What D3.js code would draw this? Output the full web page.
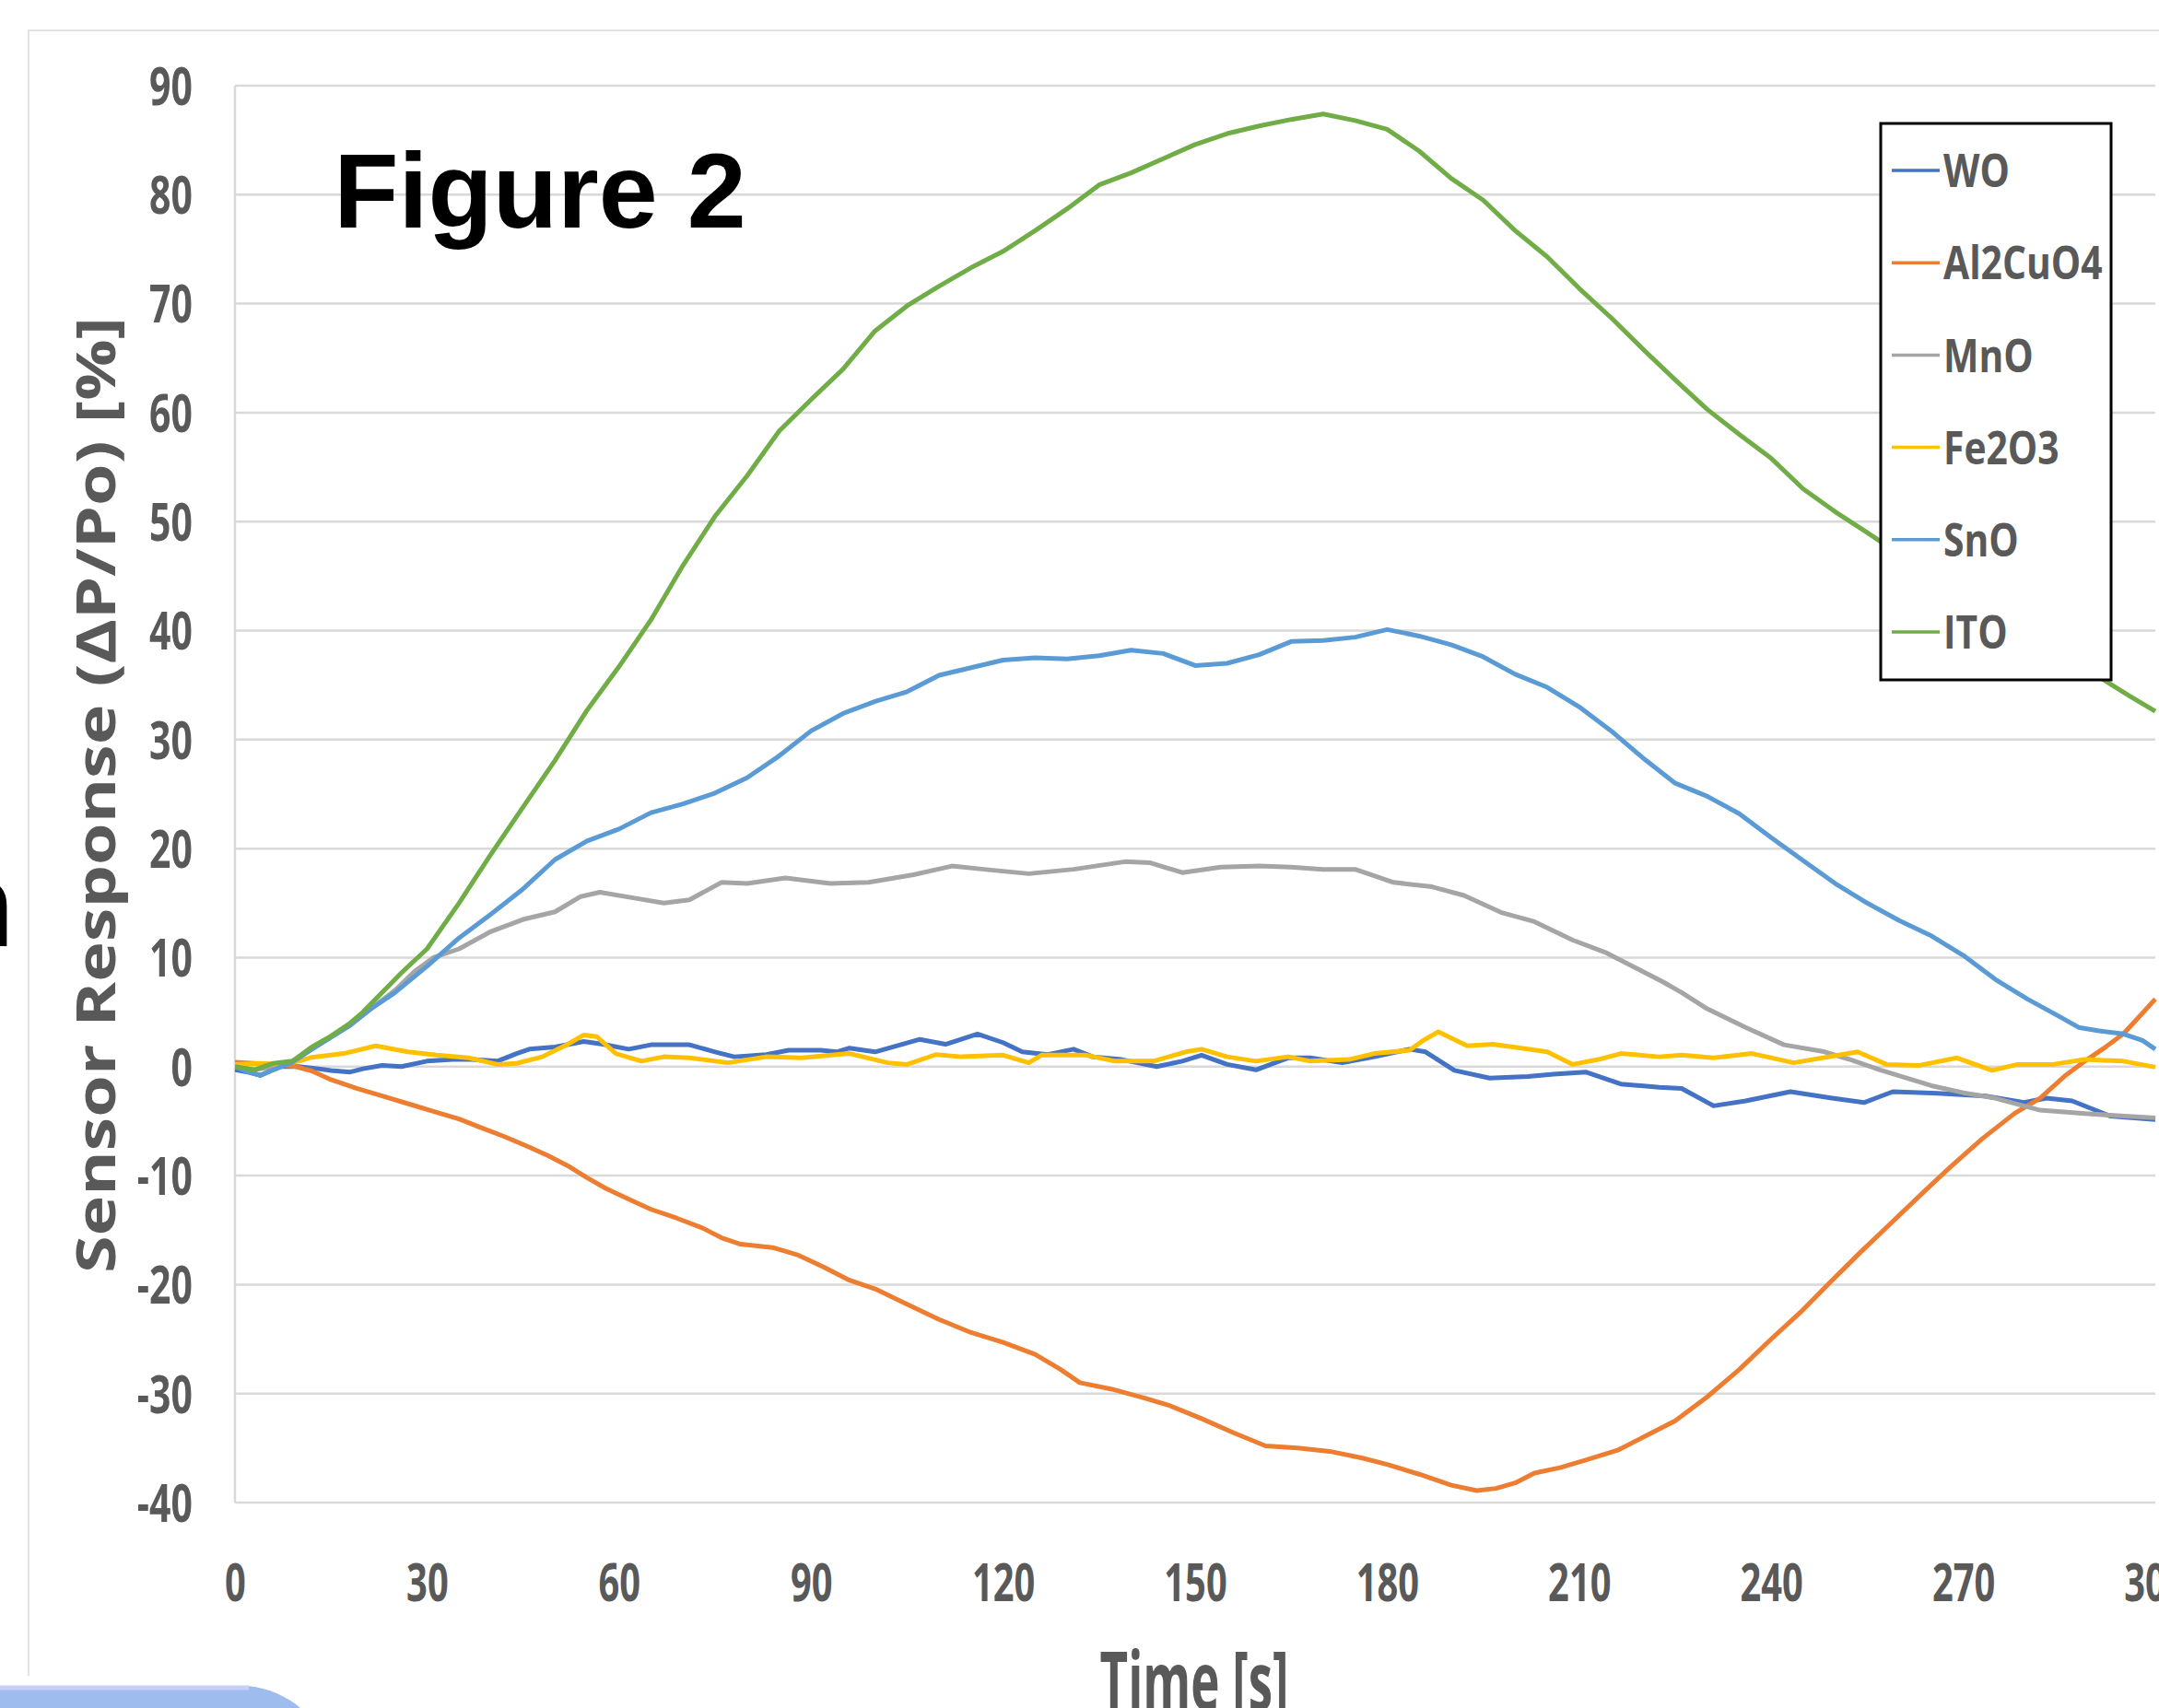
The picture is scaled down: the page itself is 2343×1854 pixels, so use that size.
<!DOCTYPE html>
<html>
<head>
<meta charset="utf-8">
<script src="https://cdn.jsdelivr.net/npm/d3@7"></script>
<style>
  body { margin: 0; background: #fff; }
  svg { display: block; }
  text { font-family: "Open Sans", sans-serif; font-weight: bold; fill: #595959; }
</style>
</head>
<body>
<svg id="chart"></svg>
<script>
const width = 2343;
const height = 1854;

const seriesNames = ["WO", "Al2CuO4", "MnO", "Fe2O3", "SnO", "ITO"];
const seriesColors = ["#4472C4", "#ED7D31", "#A5A5A5", "#FFC000", "#5B9BD5", "#70AD47"];
const xTicks = [0, 30, 60, 90, 120, 150, 180, 210, 240, 270, 300];
const yTicks = [-40, -30, -20, -10, 0, 10, 20, 30, 40, 50, 60, 70, 80, 90];

// [time s, response %]
const wo = [[0,-0.3],[2,-0.5],[4,-0.8],[7,0],[10,0],[13,-0.2],[15,-0.35],[18,-0.5],[20,-0.2],[23,0.1],[26,0],[30,0.5],[34,0.65],[37,0.65],[41,0.5],[44,1.2],[46,1.6],[50,1.8],[54.5,2.3],[57.5,2.05],[61.5,1.6],[65,2],[71,2],[75,1.35],[78,0.9],[83,1.1],[86.5,1.5],[91.5,1.5],[94,1.35],[96,1.7],[100,1.35],[107,2.5],[111,2.05],[116,3],[120,2.2],[123,1.35],[127,1.1],[131,1.6],[134,0.9],[138.5,0.65],[144,0],[148,0.5],[151,1.05],[155,0.2],[159.5,-0.3],[164.5,0.8],[168,0.8],[173,0.35],[178,0.9],[183.5,1.6],[186,1.35],[190.5,-0.35],[196,-1.05],[202,-0.9],[206,-0.7],[211,-0.5],[216.5,-1.6],[222.5,-1.9],[226,-2],[231,-3.6],[236,-3.15],[243,-2.3],[249.5,-2.9],[254.5,-3.3],[259,-2.3],[266,-2.45],[273.5,-2.7],[279.5,-3.3],[283,-2.9],[287,-3.15],[293,-4.55],[300,-4.85]];
const al2cuo4 = [[0,0.4],[3,0.3],[6,0.2],[9.5,0],[12,-0.4],[15,-1.2],[19,-2],[23,-2.7],[27,-3.4],[31,-4.1],[35,-4.8],[38,-5.5],[42,-6.4],[46,-7.4],[49,-8.2],[52,-9.1],[55,-10.2],[58,-11.2],[62,-12.3],[65,-13.1],[69,-13.9],[73,-14.8],[76,-15.7],[79,-16.3],[84,-16.6],[88,-17.3],[92,-18.4],[96,-19.6],[100,-20.4],[105,-21.8],[110,-23.2],[115,-24.4],[120,-25.3],[125,-26.4],[129,-27.8],[132,-29],[137,-29.6],[142,-30.4],[146,-31.1],[151,-32.3],[156,-33.6],[161,-34.8],[166,-35],[171,-35.3],[176,-35.9],[180,-36.5],[185,-37.4],[190,-38.4],[194,-38.9],[197,-38.7],[200,-38.2],[203,-37.3],[207,-36.8],[211,-36.1],[216,-35.2],[220,-34],[225,-32.5],[230,-30.3],[235,-27.8],[240,-25],[245,-22.3],[249,-19.9],[254,-17],[259,-14.2],[264,-11.4],[268,-9.2],[273,-6.6],[278,-4.3],[282,-2.9],[286,-0.8],[289,0.5],[292,1.7],[295,3],[298,4.9],[300,6.2]];
const mno = [[0,0],[3,-0.3],[6,0],[9,0.5],[12,1.6],[15,2.7],[18,3.8],[21,5.2],[25,7],[28,8.7],[31,10],[35,10.8],[40,12.4],[45,13.5],[50,14.2],[54,15.6],[57,16],[62,15.5],[67,15],[71,15.3],[76,16.9],[80,16.8],[86,17.3],[93,16.8],[99,16.9],[106,17.6],[112,18.4],[117,18.1],[124,17.7],[131,18.1],[139,18.8],[143,18.7],[148,17.8],[154,18.3],[160,18.4],[165,18.3],[170,18.1],[175,18.1],[181,16.9],[187,16.5],[192,15.7],[198,14.1],[203,13.3],[209,11.6],[214,10.5],[219,9],[223,7.8],[226,6.8],[230,5.3],[236,3.6],[242,2],[248,1.4],[252,0.7],[257,-0.3],[265,-1.75],[270,-2.4],[275,-2.9],[282,-4],[289,-4.3],[294,-4.5],[300,-4.7]];
const fe2o3 = [[0,0.2],[4,0.3],[7.5,0.2],[10,0.5],[12,0.85],[17,1.2],[22,1.9],[27,1.35],[31.5,1.05],[36.5,0.8],[41,0.2],[44,0.3],[48,0.9],[52,2.05],[54.5,2.9],[56.5,2.75],[59.5,1.2],[63.5,0.5],[67,0.9],[71,0.8],[77,0.35],[83,0.9],[88.5,0.8],[96,1.2],[102,0.35],[105,0.2],[109.5,1.1],[113.5,0.9],[120,1.05],[124,0.35],[126,1.05],[133,1.05],[137.5,0.5],[143.5,0.5],[148.5,1.35],[151,1.6],[155,0.9],[159.5,0.5],[164.5,0.9],[168,0.5],[174,0.65],[178,1.2],[183.5,1.5],[185.5,2.35],[188,3.2],[192.5,1.9],[196.5,2.05],[202,1.6],[205,1.35],[209,0.2],[213,0.65],[216.5,1.2],[222.5,0.9],[226,1.05],[231,0.8],[237,1.2],[243.5,0.35],[253.5,1.35],[258,0.2],[263,0.1],[269,0.8],[274.5,-0.35],[278.5,0.2],[284,0.2],[289,0.65],[295,0.5],[300,-0.05]];
const sno = [[0,0],[2,-0.5],[4,-0.8],[6,-0.3],[9,0.4],[12,1.6],[15,2.7],[18,3.8],[21,5.2],[25,6.8],[30,9.2],[35,11.8],[40,14],[45,16.3],[50,19],[55,20.7],[60,21.8],[65,23.3],[70,24.1],[75,25.1],[80,26.5],[85,28.5],[90,30.8],[95,32.4],[100,33.5],[105,34.4],[110,35.9],[115,36.6],[120,37.3],[125,37.5],[130,37.4],[135,37.7],[140,38.2],[145,37.9],[150,36.8],[155,37],[160,37.8],[165,39],[170,39.1],[175,39.4],[180,40.1],[185,39.5],[190,38.7],[195,37.6],[200,36],[205,34.8],[210,33],[215,30.8],[220,28.3],[225,26],[230,24.8],[235,23.2],[240,21],[245,18.9],[250,16.8],[255,15],[260,13.4],[265,12],[270,10.2],[275,8],[280,6.2],[285,4.6],[288,3.6],[291,3.3],[295,3],[298,2.4],[300,1.6]];
const ito = [[0,0],[3,-0.3],[6,0.3],[9,0.5],[12,1.8],[15,2.8],[18,4],[20,5],[23,6.8],[26,8.6],[30,10.8],[35,15],[40,19.5],[45,23.8],[50,28.1],[55,32.7],[60,36.7],[65,41],[70,46],[75,50.5],[80,54.2],[85,58.3],[90,61.2],[95,64],[100,67.5],[105,69.8],[110,71.6],[115,73.3],[120,74.8],[125,76.7],[130,78.7],[135,80.9],[140,82],[145,83.3],[150,84.6],[155,85.6],[160,86.3],[165,86.9],[170,87.4],[175,86.8],[180,86],[185,84],[190,81.5],[195,79.5],[200,76.7],[205,74.3],[210,71.4],[215,68.7],[220,65.8],[225,63],[230,60.3],[235,58],[240,55.8],[245,53],[250,50.9],[255,49],[260,47],[265,45],[270,43.2],[275,41.4],[280,39.6],[285,37.9],[290,36.2],[293,35.1],[296,34],[300,32.6]];

const seriesData = [wo, al2cuo4, mno, fe2o3, sno, ito];

const svg = d3.select("#chart")
  .attr("width", width)
  .attr("height", height);

const x = d3.scaleLinear().domain([0, 300]).range([255, 2339]);
const y = d3.scaleLinear().domain([-40, 90]).range([1631, 93]);

// chart area frame (left + top edge visible in the screenshot)
svg.append("path")
  .attr("d", "M31,1819 L31,33 L" + width + ",33")
  .attr("fill", "none")
  .attr("stroke", "#e2e2e2")
  .attr("stroke-width", 2);

// gridlines
svg.append("g")
  .selectAll("line")
  .data(yTicks)
  .join("line")
  .attr("x1", x(0))
  .attr("x2", x(300))
  .attr("y1", d => y(d))
  .attr("y2", d => y(d))
  .attr("stroke", "#d9d9d9")
  .attr("stroke-width", 2.5);

svg.append("line")
  .attr("x1", x(0)).attr("x2", x(0))
  .attr("y1", y(90)).attr("y2", y(-40))
  .attr("stroke", "#d9d9d9")
  .attr("stroke-width", 2.5);

// y axis labels
const yAxis = svg.append("g")
  .attr("transform", "translate(" + x(0) + ",0)")
  .call(d3.axisLeft(y).tickValues(yTicks).tickSize(0).tickFormat(d => String(d)));
yAxis.select(".domain").remove();
yAxis.selectAll("text")
  .attr("x", 0)
  .attr("dy", "0.357em")
  .attr("font-size", 57)
  .attr("font-family", "Open Sans")
  .attr("font-weight", "bold")
  .attr("fill", "#595959")
  .attr("text-anchor", "end")
  .attr("transform", "translate(-46,0) scale(0.72,1)");

// x axis labels
const xAxis = svg.append("g")
  .attr("transform", "translate(0," + y(-40) + ")")
  .call(d3.axisBottom(x).tickValues(xTicks).tickSize(0).tickFormat(d => String(d)));
xAxis.select(".domain").remove();
xAxis.selectAll("text")
  .attr("y", 0)
  .attr("dy", 0)
  .attr("font-size", 57)
  .attr("font-family", "Open Sans")
  .attr("font-weight", "bold")
  .attr("fill", "#595959")
  .attr("text-anchor", "middle")
  .attr("transform", "translate(0,107) scale(0.7,1)");

// axis titles
svg.append("text")
  .attr("transform", "translate(125,863) rotate(-90)")
  .attr("text-anchor", "middle")
  .attr("font-size", 59)
  .attr("textLength", 1038)
  .attr("lengthAdjust", "spacingAndGlyphs")
  .text("Sensor Response (ΔP/Po) [%]");

svg.append("text")
  .attr("x", 1296)
  .attr("y", 1856)
  .attr("text-anchor", "middle")
  .attr("font-size", 87)
  .attr("textLength", 205)
  .attr("lengthAdjust", "spacingAndGlyphs")
  .text("Time [s]");

// series
svg.append("clipPath").attr("id", "plotclip")
  .append("rect")
  .attr("x", x(0)).attr("y", 60)
  .attr("width", width - x(0)).attr("height", 1600);

const line = d3.line()
  .x(d => x(d[0]))
  .y(d => y(d[1]));

svg.append("g")
  .attr("clip-path", "url(#plotclip)")
  .selectAll("path")
  .data(seriesData)
  .join("path")
  .attr("d", line)
  .attr("fill", "none")
  .attr("stroke", (d, i) => seriesColors[i])
  .attr("stroke-width", 5)
  .attr("stroke-linejoin", "round");

// figure caption
svg.append("text")
  .attr("x", 586)
  .attr("y", 247)
  .attr("text-anchor", "middle")
  .style("font-family", "'Liberation Sans', Arial, sans-serif")
  .style("font-size", "115px")
  .style("fill", "#000")
  .text("Figure 2");

// cut-off letter at left edge of the screenshot
svg.append("text")
  .attr("x", -64)
  .attr("y", 1027)
  .style("font-family", "'Liberation Sans', Arial, sans-serif")
  .style("font-size", "130px")
  .style("fill", "#000")
  .text("n");

// legend
const legend = svg.append("g");
legend.append("rect")
  .attr("x", 2041).attr("y", 134)
  .attr("width", 250).attr("height", 604)
  .attr("fill", "#fff")
  .attr("stroke", "#000")
  .attr("stroke-width", 3);

const entries = legend.selectAll("g.entry")
  .data(seriesNames)
  .join("g")
  .attr("class", "entry")
  .attr("transform", (d, i) => "translate(2053," + (185 + i * 100.2) + ")");

entries.append("line")
  .attr("x1", 0).attr("x2", 52)
  .attr("stroke", (d, i) => seriesColors[i])
  .attr("stroke-width", 3.5);

entries.append("text")
  .attr("dy", "0.357em")
  .attr("font-size", 51)
  .attr("transform", "translate(56,0) scale(0.8,1)")
  .text(d => d);

// taskbar fragment at bottom-left of the screenshot
svg.append("path")
  .attr("d", "M0,1830 L268,1830 C292,1832 312,1842 326,1854 L0,1854 Z")
  .attr("fill", "#9ebdee");
svg.append("line")
  .attr("x1", 0).attr("x2", 270)
  .attr("y1", 1832).attr("y2", 1832)
  .attr("stroke", "#c7cff7")
  .attr("stroke-width", 5);
</script>
</body>
</html>
